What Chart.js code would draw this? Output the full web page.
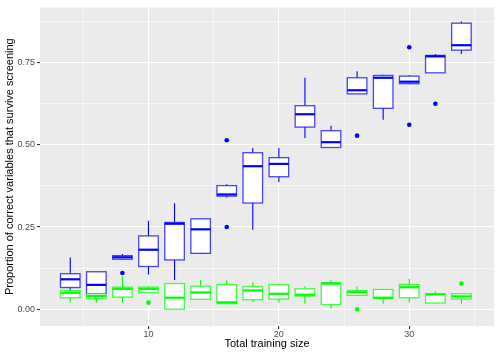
<!DOCTYPE html>
<html>
<head>
<meta charset="utf-8">
<script src="https://cdn.jsdelivr.net/npm/chart.js@4/dist/chart.umd.min.js"></script>
<style>
  html, body { margin: 0; padding: 0; background: #ffffff; }
  #wrap { width: 498px; height: 355px; }
</style>
</head>
<body>
<div id="wrap"><canvas id="screenChart" width="498" height="355"></canvas></div>
<script>
// training sizes (x positions of the boxes)
const sizes = [4, 6, 8, 10, 12, 14, 16, 18, 20, 22, 24, 26, 28, 30, 32, 34];

// blue series: whisker low, Q1, median, Q3, whisker high
const blueLow = [0.057, 0.040, 0.150, 0.106, 0.089, 0.168, 0.340, 0.242, 0.387, 0.521, 0.492, 0.655, 0.576, 0.684, 0.719, 0.776];
const blueQ1  = [0.066, 0.047, 0.152, 0.130, 0.150, 0.170, 0.344, 0.323, 0.403, 0.554, 0.492, 0.655, 0.611, 0.686, 0.719, 0.788];
const blueMed = [0.091, 0.074, 0.158, 0.181, 0.260, 0.243, 0.349, 0.435, 0.442, 0.593, 0.508, 0.666, 0.704, 0.692, 0.769, 0.803];
const blueQ3  = [0.108, 0.114, 0.163, 0.223, 0.264, 0.275, 0.376, 0.476, 0.461, 0.619, 0.543, 0.704, 0.711, 0.709, 0.772, 0.870];
const blueHigh = [0.157, 0.114, 0.168, 0.269, 0.322, 0.276, 0.380, 0.490, 0.490, 0.704, 0.558, 0.724, 0.713, 0.712, 0.776, 0.875];
const blueOutliers = [
  { x: 8, y: 0.110 }, { x: 16, y: 0.514 }, { x: 16, y: 0.250 }, { x: 26, y: 0.528 },
  { x: 30, y: 0.797 }, { x: 30, y: 0.561 }, { x: 32, y: 0.625 }
];

// green series
const greenLow = [0.020, 0.020, 0.020, 0.051, 0.000, 0.030, 0.017, 0.022, 0.020, 0.017, 0.002, 0.042, 0.017, 0.020, 0.019, 0.017];
const greenQ1  = [0.035, 0.032, 0.037, 0.051, 0.000, 0.030, 0.017, 0.029, 0.031, 0.040, 0.014, 0.042, 0.032, 0.035, 0.019, 0.031];
const greenMed = [0.050, 0.040, 0.062, 0.062, 0.035, 0.051, 0.021, 0.057, 0.047, 0.044, 0.078, 0.052, 0.035, 0.067, 0.045, 0.039];
const greenQ3  = [0.057, 0.047, 0.067, 0.067, 0.078, 0.070, 0.075, 0.069, 0.075, 0.062, 0.081, 0.057, 0.060, 0.075, 0.047, 0.047];
const greenHigh = [0.062, 0.050, 0.100, 0.070, 0.078, 0.090, 0.088, 0.081, 0.078, 0.070, 0.088, 0.069, 0.060, 0.093, 0.055, 0.047];
const greenOutliers = [{ x: 10, y: 0.020 }, { x: 26, y: 0.000 }, { x: 34, y: 0.078 }];

const yTicks = [0, 0.125, 0.25, 0.375, 0.5, 0.625, 0.75, 0.875];
const xTicks = [5, 10, 15, 20, 25, 30, 35];

const series = [
  { color: '#0000FF', edge: 'rgba(0,0,255,0.72)', low: blueLow, q1: blueQ1, med: blueMed, q3: blueQ3, high: blueHigh },
  { color: '#00FF00', edge: 'rgba(0,255,0,0.72)', low: greenLow, q1: greenQ1, med: greenMed, q3: greenQ3, high: greenHigh }
];

// grey panel behind the grid
const panelBg = {
  id: 'panelBg',
  beforeDraw(chart) {
    const { ctx, chartArea: a } = chart;
    ctx.save();
    ctx.fillStyle = '#EBEBEB';
    ctx.fillRect(a.left, a.top, a.right - a.left, a.bottom - a.top);
    ctx.restore();
  }
};

// box-and-whisker drawing through the chart scales
const boxPlugin = {
  id: 'boxes',
  beforeDatasetsDraw(chart) {
    const { ctx, scales: { x, y } } = chart;
    ctx.save();
    series.forEach(s => {
      sizes.forEach((size, i) => {
        const xl = x.getPixelForValue(size - 0.75);
        const xr = x.getPixelForValue(size + 0.75);
        const xc = x.getPixelForValue(size);
        const yq1 = y.getPixelForValue(s.q1[i]);
        const yq3 = y.getPixelForValue(s.q3[i]);
        const ym = y.getPixelForValue(s.med[i]);
        const ylo = y.getPixelForValue(s.low[i]);
        const yhi = y.getPixelForValue(s.high[i]);
        // whiskers
        ctx.strokeStyle = s.color;
        ctx.lineWidth = 1.1;
        ctx.beginPath();
        ctx.moveTo(xc, yq3); ctx.lineTo(xc, yhi);
        ctx.moveTo(xc, yq1); ctx.lineTo(xc, ylo);
        ctx.stroke();
        // box
        ctx.fillStyle = '#FFFFFF';
        ctx.fillRect(xl, yq3, xr - xl, yq1 - yq3);
        ctx.strokeStyle = s.edge;
        ctx.lineWidth = 1.3;
        ctx.strokeRect(xl, yq3, xr - xl, yq1 - yq3);
        // median
        ctx.strokeStyle = s.color;
        ctx.lineWidth = 2.2;
        ctx.beginPath();
        ctx.moveTo(xl, ym); ctx.lineTo(xr, ym);
        ctx.stroke();
      });
    });
    ctx.restore();
  }
};

const isMajorY = v => Math.abs(v * 4 - Math.round(v * 4)) < 1e-6;
const isMajorX = v => v % 10 === 0;

new Chart(document.getElementById('screenChart'), {
  type: 'scatter',
  data: {
    datasets: [
      { label: 'blue outliers', data: blueOutliers, backgroundColor: '#0000FF', borderWidth: 0, pointRadius: 2.3 },
      { label: 'green outliers', data: greenOutliers, backgroundColor: '#00FF00', borderWidth: 0, pointRadius: 2.3 }
    ]
  },
  options: {
    responsive: false,
    animation: false,
    events: [],
    layout: { padding: { top: 5, right: 2, left: 0, bottom: 0 } },
    plugins: { legend: { display: false }, tooltip: { enabled: false } },
    scales: {
      x: {
        type: 'linear',
        min: 1.68,
        max: 36.5,
        afterBuildTicks: scale => { scale.ticks = xTicks.map(v => ({ value: v })); },
        afterFit: scale => { scale.height = 29; },
        border: { display: false },
        grid: {
          color: '#FFFFFF',
          lineWidth: c => isMajorX(c.tick.value) ? 1.1 : 0.55,
          tickColor: c => isMajorX(c.tick.value) ? '#333333' : 'rgba(0,0,0,0)',
          tickLength: 3
        },
        ticks: {
          autoSkip: false,
          maxRotation: 0,
          padding: 0,
          color: '#4D4D4D',
          font: { family: 'Liberation Sans', size: 9 },
          callback: v => isMajorX(v) ? String(v) : ''
        },
        title: {
          display: true,
          text: 'Total training size',
          color: '#000000',
          font: { family: 'Liberation Sans', size: 11 },
          padding: { top: 0, bottom: 4 }
        }
      },
      y: {
        type: 'linear',
        min: -0.051,
        max: 0.918,
        afterBuildTicks: scale => { scale.ticks = yTicks.map(v => ({ value: v })); },
        afterFit: scale => { scale.width = 40; },
        border: { display: false },
        grid: {
          color: '#FFFFFF',
          lineWidth: c => isMajorY(c.tick.value) ? 1.1 : 0.55,
          tickColor: c => isMajorY(c.tick.value) ? '#333333' : 'rgba(0,0,0,0)',
          tickLength: 3
        },
        ticks: {
          autoSkip: false,
          padding: 2,
          color: '#4D4D4D',
          font: { family: 'Liberation Sans', size: 9 },
          callback: v => isMajorY(v) ? v.toFixed(2) : ''
        },
        title: {
          display: true,
          text: 'Proportion of correct variables that survive screening',
          color: '#000000',
          font: { family: 'Liberation Sans', size: 11 },
          padding: { top: 3, bottom: 0 }
        }
      }
    }
  },
  plugins: [panelBg, boxPlugin]
});
</script>
</body>
</html>
